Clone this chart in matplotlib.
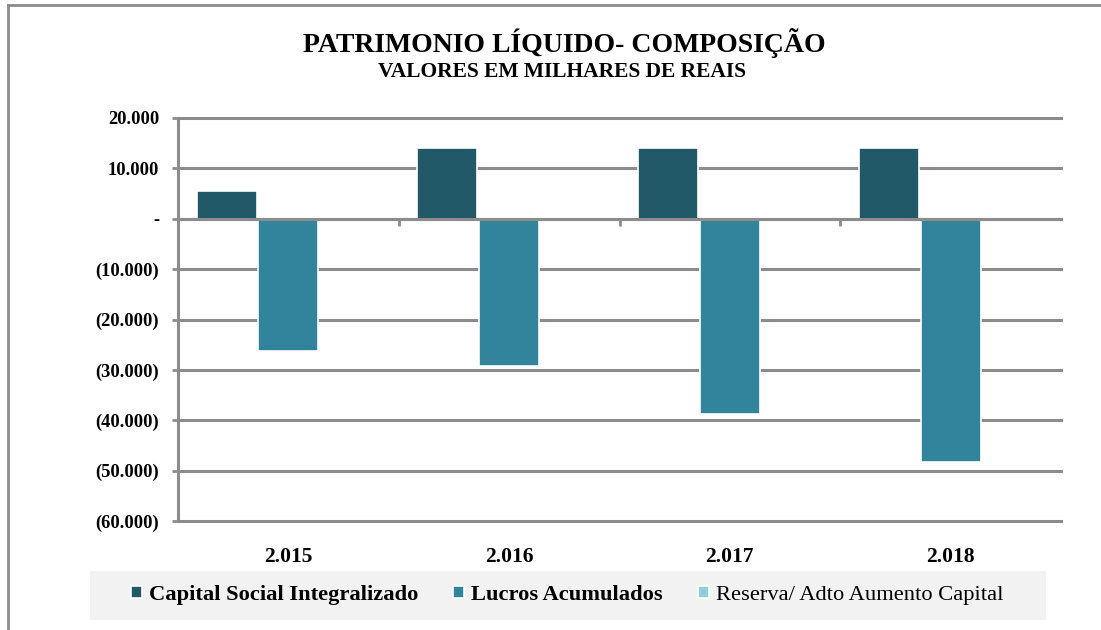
import matplotlib
matplotlib.use("Agg")
import matplotlib.pyplot as plt
from matplotlib.patches import Rectangle
import numpy as np

years = ["2.015", "2.016", "2.017", "2.018"]
capital = [5600, 14100, 14100, 14100]
lucros = [-26200, -29200, -38700, -48200]
reserva = [0, 0, 0, 0]
series_names = ["Capital Social Integralizado", "Lucros Acumulados", "Reserva/ Adto Aumento Capital"]
colors = ["#215968", "#31849B", "#92CDDC"]
yticks = [20000, 10000, 0, -10000, -20000, -30000, -40000, -50000, -60000]
ytick_labels = ["20.000", "10.000", "-", "(10.000)", "(20.000)", "(30.000)", "(40.000)", "(50.000)", "(60.000)"]

plt.rcParams['font.family'] = ['Liberation Serif', 'DejaVu Serif']

fig = plt.figure(figsize=(11.01, 6.30), dpi=100)
ax = fig.add_axes([178/1101, 1-521/630, (1061-178)/1101, (521-118)/630])

x = np.arange(len(years))
w = 0.272
offs = [-0.28, 0.0, 0.28]
for vals, off, c, name in zip([capital, lucros, reserva], offs, colors, series_names):
    ax.bar(x + off, vals, width=w, color=c, edgecolor="white", linewidth=1.2, label=name, zorder=3)

ax.set_xlim(-0.5, 3.5)
ax.set_ylim(-60000, 20000)
ax.set_yticks(yticks)
ax.set_yticklabels(ytick_labels, fontweight="bold", fontsize=13.3)
ax.yaxis.grid(True, color="#8c8c8c", linewidth=2.2, zorder=1)
for gl in ax.get_ygridlines():
    gl.set_clip_on(False)
ax.set_axisbelow(True)

for s in ["top", "right"]:
    ax.spines[s].set_visible(False)
ax.spines["left"].set_color("#8c8c8c")
ax.spines["left"].set_linewidth(2.2)
ax.spines["bottom"].set_position(("data", 0))
ax.spines["bottom"].set_color("#8c8c8c")
ax.spines["bottom"].set_linewidth(2.2)
ax.spines["bottom"].set_zorder(4)

ax.tick_params(axis="y", length=4.5, width=2, color="#8c8c8c", pad=9)
ax.set_xticks([0.5, 1.5, 2.5])
ax.set_xticklabels([])
ax.tick_params(axis="x", length=5, width=2, color="#8c8c8c", direction="out")

for i, y in enumerate(years):
    ax.text(i, -0.09, y, transform=ax.get_xaxis_transform(), ha="center", va="center",
            fontsize=15.5, fontweight="bold")

fig.text(564/1101, 1-43/630, "PATRIMONIO LÍQUIDO- COMPOSIÇÃO", ha="center", va="center",
         fontsize=20, fontweight="bold")
fig.text(562/1101, 1-72/630, "VALORES EM MILHARES DE REAIS", ha="center", va="center",
         fontsize=15.5, fontweight="bold")

# legend background
fig.patches.append(Rectangle((90/1101, 1-620/630), (1046-90)/1101, 49/630,
                             transform=fig.transFigure, facecolor="#f2f2f2", edgecolor="none", zorder=0))
leg = fig.legend(loc="center", bbox_to_anchor=(567/1101, 1-595/630), ncol=3, frameon=False,
                 fontsize=16.2, handlelength=0.5, handleheight=0.5, handletextpad=0.3,
                 columnspacing=1.55)
for i, t in enumerate(leg.get_texts()):
    if i < 2:
        t.set_fontweight("bold")

# figure border (left and top)
fig.add_artist(plt.Line2D([8/1101, 8/1101], [0, 1-5/630], transform=fig.transFigure,
                          color="#8c8c8c", linewidth=2))
fig.add_artist(plt.Line2D([8/1101, 1], [1-5/630, 1-5/630], transform=fig.transFigure,
                          color="#8c8c8c", linewidth=2))

fig.savefig("out.png", dpi=100)
